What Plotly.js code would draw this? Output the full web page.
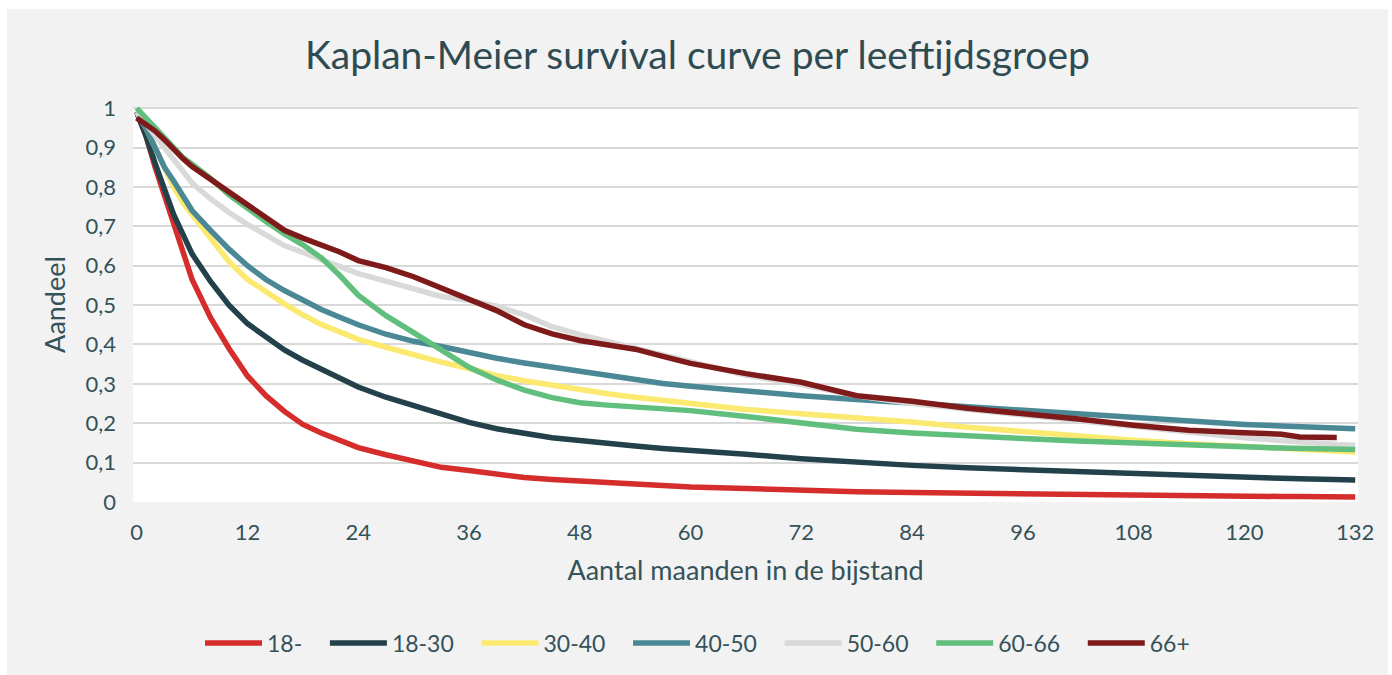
<!DOCTYPE html>
<html>
<head>
<meta charset="utf-8">
<script src="https://cdn.plot.ly/plotly-3.0.1.min.js"></script>
<style>
  html, body { margin: 0; padding: 0; background: #ffffff; width: 1392px; height: 675px; overflow: hidden; }
  #chart { position: absolute; left: 7px; top: 9px; width: 1381px; height: 666px; }
</style>
</head>
<body>
<div id="chart"></div>
<script>
// Months (x values)
const months = [0,1,2,3,4,5,6,8,10,12,14,16,18,20,22,24,27,30,33,36,39,42,45,48,51,54,57,60,66,72,78,84,90,96,102,108,114,120,124,126,130,132];

// Series values (share surviving)
const s18min = [0.99,0.93,0.85,0.78,0.71,0.635,0.565,0.468,0.39,0.32,0.27,0.23,0.197,0.175,0.155,0.138,0.12,0.104,0.088,0.08,0.07,0.062,0.057,0.053,0.05,0.045,0.041,0.038,0.034,0.029,0.026,0.024,0.022,0.021,0.02,0.018,0.016,0.015,0.014,0.014,0.013,0.013];
const s18_30 = [0.99,0.93,0.86,0.79,0.73,0.68,0.63,0.56,0.50,0.453,0.418,0.386,0.36,0.337,0.315,0.292,0.266,0.245,0.222,0.202,0.186,0.173,0.163,0.156,0.148,0.142,0.136,0.13,0.121,0.11,0.1,0.093,0.087,0.082,0.076,0.07,0.066,0.062,0.06,0.059,0.057,0.056];
const s30_40 = [0.99,0.95,0.90,0.85,0.80,0.76,0.73,0.665,0.61,0.565,0.533,0.503,0.475,0.451,0.432,0.413,0.393,0.373,0.355,0.339,0.321,0.308,0.296,0.285,0.275,0.266,0.258,0.249,0.235,0.224,0.215,0.203,0.19,0.178,0.167,0.157,0.148,0.14,0.135,0.133,0.129,0.127];
const s40_50 = [0.99,0.95,0.90,0.85,0.815,0.775,0.74,0.69,0.642,0.6,0.565,0.537,0.512,0.489,0.469,0.45,0.426,0.408,0.395,0.379,0.365,0.353,0.342,0.331,0.32,0.31,0.301,0.294,0.281,0.27,0.26,0.251,0.241,0.231,0.222,0.214,0.205,0.197,0.193,0.191,0.188,0.186];
const s50_60 = [0.99,0.96,0.93,0.90,0.875,0.845,0.81,0.77,0.735,0.705,0.677,0.651,0.634,0.616,0.598,0.58,0.561,0.54,0.522,0.512,0.497,0.475,0.445,0.425,0.408,0.392,0.375,0.357,0.322,0.298,0.27,0.25,0.235,0.221,0.206,0.191,0.177,0.163,0.156,0.152,0.146,0.144];
const s60_66 = [1.0,0.975,0.95,0.926,0.90,0.875,0.858,0.822,0.78,0.745,0.712,0.681,0.653,0.62,0.575,0.525,0.473,0.43,0.386,0.342,0.31,0.284,0.265,0.252,0.246,0.241,0.236,0.232,0.217,0.202,0.185,0.175,0.167,0.161,0.155,0.149,0.145,0.14,0.137,0.136,0.134,0.133];
const s66plus = [0.975,0.96,0.942,0.92,0.895,0.872,0.852,0.82,0.785,0.752,0.72,0.69,0.67,0.652,0.635,0.613,0.595,0.572,0.543,0.515,0.486,0.45,0.427,0.41,0.4,0.388,0.37,0.352,0.326,0.304,0.27,0.256,0.238,0.226,0.211,0.195,0.182,0.176,0.172,0.165,0.164,null];

const seriesNames = ['18-','18-30','30-40','40-50','50-60','60-66','66+'];
const seriesData = [s18min, s18_30, s30_40, s40_50, s50_60, s60_66, s66plus];
const colors = ['#d42d2b','#22414a','#fce96f','#4a8895','#d9d9d9','#60bf7c','#7f1a1a'];

const xTicks = [0,12,24,36,48,60,72,84,96,108,120,132];
const yTicks = [0,0.1,0.2,0.3,0.4,0.5,0.6,0.7,0.8,0.9,1];

const FONT = 'Lato, "Open Sans", sans-serif';
const TXT = '#34525a';
const PAD = '\u00a0\u00a0\u00a0'; // extra spacing between legend entries

const traces = seriesNames.map((n, i) => ({
  type: 'scatter', mode: 'lines',
  name: i < seriesNames.length - 1 ? n + PAD : n,
  x: months, y: seriesData[i],
  line: { color: colors[i], width: 5.5 },
  connectgaps: false
}));

const layout = {
  width: 1381, height: 666,
  paper_bgcolor: '#f2f2f2', plot_bgcolor: '#ffffff',
  margin: { l: 126, r: 30, t: 98, b: 173 },
  separators: ',.',
  font: { family: FONT, color: TXT, size: 22 },
  title: { text: 'Kaplan-Meier survival curve per leeftijdsgroep', font: { family: FONT, size: 39, color: '#2f4b52' },
           x: 0.5, xanchor: 'center', y: 1 - 46/666, yanchor: 'middle', yref: 'container' },
  xaxis: {
    range: [-0.4, 132.3], tickvals: xTicks, ticktext: xTicks.map(String),
    showgrid: false, zeroline: false, showline: false, ticks: '',
    tickfont: { size: 22, color: TXT }, ticklabelstandoff: 15,
    title: { text: 'Aantal maanden in de bijstand', font: { size: 27, color: TXT }, standoff: 17 }
  },
  yaxis: {
    range: [0, 1.003], tickvals: yTicks,
    showgrid: true, gridcolor: '#d9d9d9', gridwidth: 2, zeroline: false, showline: false, ticks: '',
    tickfont: { size: 22, color: TXT }, ticklabelstandoff: 16,
    title: { text: 'Aandeel', font: { size: 27, color: TXT }, standoff: 12 }
  },
  showlegend: true,
  legend: { orientation: 'h', xref: 'container', yref: 'container', x: 0.5, xanchor: 'center', y: 1 - 634/666, yanchor: 'middle',
            font: { size: 23, color: TXT }, bgcolor: 'rgba(0,0,0,0)', itemwidth: 57 }
};

Plotly.newPlot('chart', traces, layout, { displayModeBar: false, staticPlot: true });
</script>
</body>
</html>
